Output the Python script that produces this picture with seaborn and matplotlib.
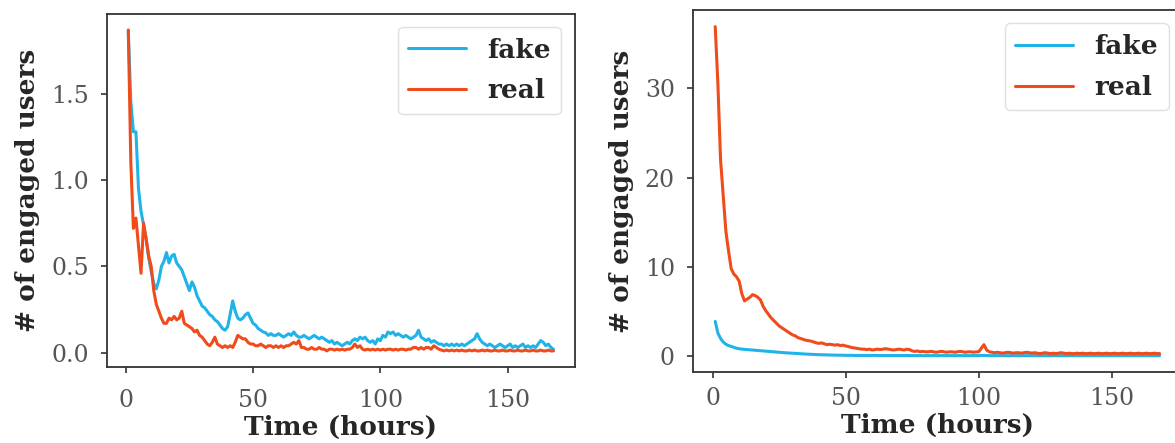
import numpy as np
import pandas as pd
import matplotlib
matplotlib.use("Agg")
import matplotlib.pyplot as plt
import seaborn as sns

# hours since publication
hours = list(range(1, 169))

# left panel: average engaged users per hour
left_fake = [
    1.86, 1.45, 1.28, 1.28, 0.95, 0.82, 0.74, 0.66, 0.55, 0.47,
    0.40, 0.37, 0.42, 0.50, 0.53, 0.58, 0.52, 0.56, 0.57, 0.52,
    0.50, 0.48, 0.44, 0.40, 0.36, 0.41, 0.38, 0.33, 0.30, 0.27,
    0.26, 0.24, 0.22, 0.21, 0.19, 0.18, 0.16, 0.14, 0.13, 0.15,
    0.22, 0.30, 0.24, 0.20, 0.19, 0.20, 0.22, 0.23, 0.20, 0.17,
    0.16, 0.14, 0.13, 0.12, 0.115, 0.10, 0.11, 0.10, 0.10, 0.11,
    0.10, 0.09, 0.10, 0.11, 0.10, 0.12, 0.10, 0.09, 0.09, 0.10,
    0.09, 0.08, 0.09, 0.10, 0.09, 0.08, 0.09, 0.08, 0.07, 0.06,
    0.07, 0.05, 0.06, 0.05, 0.04, 0.05, 0.06, 0.05, 0.07, 0.08,
    0.07, 0.09, 0.08, 0.09, 0.07, 0.06, 0.07, 0.05, 0.08, 0.07,
    0.10, 0.09, 0.12, 0.11, 0.12, 0.10, 0.11, 0.10, 0.09, 0.10,
    0.09, 0.08, 0.09, 0.10, 0.13, 0.09, 0.08, 0.07, 0.08, 0.06,
    0.07, 0.06, 0.05, 0.05, 0.04, 0.05, 0.04, 0.05, 0.04, 0.05,
    0.04, 0.05, 0.04, 0.05, 0.06, 0.07, 0.08, 0.11, 0.08, 0.06,
    0.05, 0.04, 0.05, 0.04, 0.03, 0.04, 0.05, 0.04, 0.03, 0.04,
    0.05, 0.03, 0.04, 0.03, 0.04, 0.05, 0.03, 0.04, 0.03, 0.04,
    0.03, 0.05, 0.07, 0.06, 0.04, 0.05, 0.03, 0.02,
]
left_real = [
    1.87, 1.10, 0.72, 0.78, 0.62, 0.46, 0.75, 0.66, 0.56, 0.50,
    0.36, 0.28, 0.24, 0.20, 0.17, 0.17, 0.20, 0.19, 0.21, 0.19,
    0.20, 0.24, 0.17, 0.16, 0.15, 0.14, 0.12, 0.13, 0.10, 0.09,
    0.07, 0.05, 0.04, 0.06, 0.09, 0.05, 0.04, 0.03, 0.04, 0.03,
    0.04, 0.03, 0.06, 0.10, 0.09, 0.08, 0.08, 0.06, 0.05, 0.05,
    0.04, 0.04, 0.05, 0.04, 0.03, 0.04, 0.04, 0.03, 0.04, 0.03,
    0.04, 0.03, 0.04, 0.04, 0.05, 0.06, 0.05, 0.07, 0.03, 0.03,
    0.02, 0.02, 0.03, 0.02, 0.02, 0.03, 0.02, 0.02, 0.01, 0.02,
    0.02, 0.015, 0.02, 0.015, 0.02, 0.015, 0.02, 0.02, 0.03, 0.05,
    0.03, 0.04, 0.02, 0.015, 0.02, 0.015, 0.02, 0.015, 0.02, 0.015,
    0.02, 0.015, 0.02, 0.02, 0.015, 0.02, 0.015, 0.02, 0.02, 0.015,
    0.02, 0.02, 0.03, 0.03, 0.02, 0.03, 0.02, 0.03, 0.03, 0.02,
    0.04, 0.03, 0.02, 0.015, 0.01, 0.015, 0.01, 0.015, 0.01, 0.015,
    0.01, 0.015, 0.01, 0.01, 0.015, 0.01, 0.015, 0.01, 0.01, 0.015,
    0.01, 0.015, 0.01, 0.01, 0.015, 0.01, 0.01, 0.015, 0.01, 0.01,
    0.015, 0.01, 0.01, 0.015, 0.01, 0.01, 0.015, 0.01, 0.01, 0.015,
    0.01, 0.01, 0.015, 0.01, 0.01, 0.015, 0.01, 0.01,
]

# right panel
right_fake = [
    3.9, 2.6, 2.0, 1.6, 1.35, 1.2, 1.1, 1.0, 0.9, 0.85,
    0.8, 0.78, 0.75, 0.72, 0.7, 0.68, 0.65, 0.62, 0.6, 0.58,
    0.55, 0.52, 0.5, 0.48, 0.45, 0.42, 0.4, 0.38, 0.36, 0.34,
    0.32, 0.3, 0.28, 0.26, 0.25, 0.24, 0.22, 0.2, 0.19, 0.18,
    0.17, 0.16, 0.15, 0.15, 0.14, 0.13, 0.13, 0.12, 0.12, 0.11,
    0.1, 0.11, 0.1, 0.09, 0.1, 0.1, 0.09, 0.1, 0.09, 0.09,
    0.1, 0.09, 0.08, 0.09, 0.09, 0.08, 0.09, 0.08, 0.08, 0.09,
    0.08, 0.08, 0.09, 0.08, 0.08, 0.07, 0.08, 0.08, 0.07, 0.08,
    0.08, 0.07, 0.08, 0.07, 0.07, 0.08, 0.07, 0.07, 0.08, 0.07,
    0.07, 0.08, 0.07, 0.07, 0.07, 0.08, 0.07, 0.07, 0.08, 0.09,
    0.1, 0.09, 0.08, 0.07, 0.07, 0.08, 0.07, 0.07, 0.07, 0.08,
    0.07, 0.07, 0.08, 0.07, 0.07, 0.07, 0.08, 0.07, 0.07, 0.07,
    0.08, 0.07, 0.07, 0.07, 0.08, 0.07, 0.07, 0.07, 0.08, 0.07,
    0.07, 0.07, 0.08, 0.07, 0.07, 0.07, 0.08, 0.07, 0.07, 0.07,
    0.08, 0.07, 0.07, 0.07, 0.08, 0.07, 0.07, 0.07, 0.08, 0.07,
    0.07, 0.07, 0.08, 0.07, 0.07, 0.07, 0.08, 0.07, 0.07, 0.07,
    0.08, 0.07, 0.07, 0.07, 0.08, 0.07, 0.07, 0.07,
]
right_real = [
    36.9, 30.5, 22.0, 18.0, 14.0, 11.8, 9.8, 9.2, 8.9, 8.4,
    7.0, 6.2, 6.4, 6.6, 6.9, 6.8, 6.6, 6.3, 5.6, 5.1,
    4.7, 4.3, 4.0, 3.7, 3.4, 3.2, 3.0, 2.8, 2.6, 2.4,
    2.3, 2.1, 2.0, 1.9, 1.8, 1.75, 1.7, 1.6, 1.5, 1.45,
    1.5, 1.4, 1.3, 1.35, 1.3, 1.25, 1.3, 1.2, 1.25, 1.15,
    1.1, 1.0, 0.95, 0.9, 0.85, 0.8, 0.8, 0.75, 0.8, 0.7,
    0.75, 0.8, 0.75, 0.8, 0.85, 0.8, 0.75, 0.7, 0.75, 0.8,
    0.75, 0.7, 0.8, 0.75, 0.6, 0.55, 0.6, 0.5, 0.55, 0.5,
    0.5, 0.55, 0.5, 0.45, 0.5, 0.55, 0.5, 0.45, 0.5, 0.5,
    0.45, 0.5, 0.55, 0.5, 0.45, 0.5, 0.5, 0.45, 0.5, 0.5,
    0.9, 1.3, 0.7, 0.5, 0.45, 0.4, 0.45, 0.4, 0.35, 0.4,
    0.45, 0.4, 0.35, 0.4, 0.4, 0.35, 0.4, 0.45, 0.4, 0.35,
    0.4, 0.35, 0.3, 0.35, 0.4, 0.35, 0.3, 0.35, 0.3, 0.35,
    0.4, 0.35, 0.3, 0.35, 0.3, 0.3, 0.35, 0.3, 0.35, 0.3,
    0.3, 0.35, 0.3, 0.3, 0.35, 0.3, 0.3, 0.35, 0.3, 0.3,
    0.35, 0.3, 0.3, 0.35, 0.3, 0.3, 0.35, 0.3, 0.3, 0.35,
    0.3, 0.3, 0.35, 0.3, 0.3, 0.35, 0.3, 0.3,
]

series_names = ["fake", "real"]
colors = {"fake": "#1fb3e8", "real": "#ef4b1b"}

sns.set_style("ticks")
plt.rcParams["font.family"] = ["DejaVu Serif"]
plt.rcParams["axes.edgecolor"] = "#333333"
plt.rcParams["axes.linewidth"] = 1.3


def to_frame(fake, real):
    return pd.DataFrame({
        "hour": hours * 2,
        "value": fake + real,
        "label": ["fake"] * len(fake) + ["real"] * len(real),
    })


fig = plt.figure(figsize=(11.75, 4.43), dpi=100)
ax1 = fig.add_axes([0.0911, 0.1716, 0.398, 0.797])
ax2 = fig.add_axes([0.5898, 0.160, 0.416, 0.817])

panels = [
    (ax1, left_fake, left_real, 12),
    (ax2, right_fake, right_real, 7),
]
for ax, fake, real, xpad in panels:
    sns.lineplot(data=to_frame(fake, real), x="hour", y="value", hue="label",
                 hue_order=series_names, palette=colors, linewidth=2.2, ax=ax)
    ax.set_xlabel("Time (hours)", fontsize=19, fontweight="bold", labelpad=2)
    ax.set_ylabel("# of engaged users", fontsize=19, fontweight="bold", labelpad=8)
    ax.set_xticks([0, 50, 100, 150])
    ax.tick_params(labelsize=17, colors="#333333", labelcolor="#555555",
                   length=4, width=1.2)
    ax.tick_params(axis="x", pad=xpad)
    ax.tick_params(axis="y", pad=9)
    leg = ax.legend(loc="upper right", prop={"weight": "bold", "size": 19},
                    frameon=True, handlelength=2.2, labelspacing=0.6)
    leg.get_frame().set_edgecolor("#d8d8d8")
    for line in leg.get_lines():
        line.set_linewidth(2.2)

ax1.set_yticks([0.0, 0.5, 1.0, 1.5])
ax2.set_yticks([0, 10, 20, 30])

fig.savefig("out.png", dpi=100)
